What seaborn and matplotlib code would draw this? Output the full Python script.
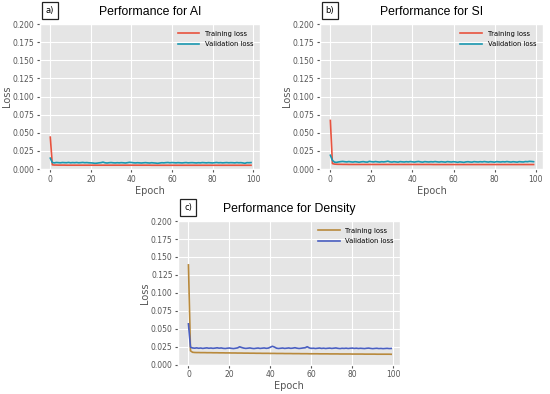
import pandas as pd
import seaborn as sns
import matplotlib.pyplot as plt

# epochs 0..99
epochs = list(range(100))

ai_train = [0.044, 0.0058, 0.0055, 0.0055, 0.0054, 0.0054, 0.0054, 0.0054, 0.0053, 0.0053] + [0.0053] * 40 + [0.0052] * 50
ai_val = [
    0.015, 0.009, 0.0085, 0.009, 0.0088, 0.0086, 0.009, 0.0088, 0.0087, 0.0091,
    0.0086, 0.0089, 0.0087, 0.009, 0.0086, 0.0088, 0.0091, 0.0087, 0.0089, 0.0086,
    0.0085, 0.0083, 0.0079, 0.0081, 0.0085, 0.0088, 0.0095, 0.0086, 0.0083, 0.0087,
    0.0089, 0.0086, 0.0084, 0.0087, 0.0085, 0.0088, 0.0086, 0.0083, 0.0087, 0.0092,
    0.009, 0.0086, 0.0084, 0.0087, 0.0085, 0.0083, 0.0086, 0.0088, 0.0085, 0.0083,
    0.0087, 0.0084, 0.0082, 0.0079, 0.0083, 0.0087, 0.0085, 0.0088, 0.009, 0.0086,
    0.0089, 0.0087, 0.0085, 0.0088, 0.0086, 0.0084, 0.0087, 0.0089, 0.0085, 0.0087,
    0.0088, 0.0086, 0.0084, 0.0087, 0.0085, 0.0089, 0.0087, 0.0085, 0.0088, 0.0086,
    0.0084, 0.0087, 0.009, 0.0086, 0.0088, 0.0085, 0.0087, 0.0089, 0.0086, 0.0088,
    0.0087, 0.0085, 0.0089, 0.0086, 0.0088, 0.0084, 0.0079, 0.0088, 0.0087, 0.0089,
]

si_train = [0.067, 0.0075, 0.0068, 0.0066, 0.0065, 0.0065, 0.0064, 0.0064, 0.0064, 0.0063] + [0.0063] * 40 + [0.0062] * 50
si_val = [
    0.019, 0.012, 0.0095, 0.0092, 0.0098, 0.0102, 0.0105, 0.0101, 0.0098, 0.0103,
    0.0099, 0.0096, 0.0101, 0.0098, 0.0094, 0.0099, 0.0102, 0.0097, 0.0095, 0.0106,
    0.0101, 0.0098, 0.0103, 0.0099, 0.0096, 0.0101, 0.0098, 0.0102, 0.0108, 0.0099,
    0.0096, 0.0101, 0.0098, 0.0095, 0.0102, 0.0099, 0.0097, 0.0101, 0.0098, 0.0103,
    0.0099, 0.0096, 0.0101, 0.0104, 0.0098, 0.0095, 0.0102, 0.0099, 0.0097, 0.0101,
    0.0098, 0.0103, 0.0099, 0.0096, 0.0101, 0.0098, 0.0095, 0.0102, 0.0099, 0.0097,
    0.0101, 0.0098, 0.0093, 0.0099, 0.0096, 0.0092, 0.0098, 0.0101, 0.0097, 0.0095,
    0.0102, 0.0099, 0.0097, 0.0101, 0.0098, 0.0103, 0.0099, 0.0096, 0.0101, 0.0098,
    0.0095, 0.0102, 0.0099, 0.0097, 0.0101, 0.0098, 0.0103, 0.0099, 0.0096, 0.0101,
    0.0098, 0.0095, 0.0102, 0.0099, 0.0097, 0.0103, 0.0101, 0.0106, 0.0104, 0.0101,
]

dens_train = [
    0.139, 0.0195, 0.0175, 0.0172, 0.0171, 0.0171, 0.017, 0.017, 0.017, 0.0169,
    0.0169, 0.0169, 0.0168, 0.0168, 0.0168, 0.0167, 0.0167, 0.0167, 0.0166, 0.0166,
    0.0166, 0.0165, 0.0165, 0.0165, 0.0164, 0.0164, 0.0164, 0.0163, 0.0163, 0.0163,
    0.0162, 0.0162, 0.0162, 0.0161, 0.0161, 0.0161, 0.016, 0.016, 0.016, 0.016,
    0.0159, 0.0159, 0.0159, 0.0158, 0.0158, 0.0158, 0.0158, 0.0157, 0.0157, 0.0157,
    0.0157, 0.0156, 0.0156, 0.0156, 0.0156, 0.0155, 0.0155, 0.0155, 0.0155, 0.0154,
    0.0154, 0.0154, 0.0154, 0.0154, 0.0153, 0.0153, 0.0153, 0.0153, 0.0153, 0.0152,
    0.0152, 0.0152, 0.0152, 0.0152, 0.0151, 0.0151, 0.0151, 0.0151, 0.0151, 0.0151,
    0.015, 0.015, 0.015, 0.015, 0.015, 0.015, 0.0149, 0.0149, 0.0149, 0.0149,
    0.0149, 0.0149, 0.0148, 0.0148, 0.0148, 0.0148, 0.0148, 0.0148, 0.0148, 0.0147,
]
dens_val = [
    0.057, 0.0245, 0.0235, 0.0232, 0.0236, 0.0231, 0.0234, 0.0229, 0.0233, 0.0236,
    0.0231, 0.0234, 0.023, 0.0233, 0.0237, 0.0232, 0.0235, 0.023, 0.0228, 0.0232,
    0.0234, 0.023, 0.0227, 0.0231, 0.0236, 0.0251, 0.0241, 0.0233, 0.0229, 0.0232,
    0.0235, 0.023, 0.0227, 0.0231, 0.0234, 0.0229, 0.0232, 0.0235, 0.023, 0.0233,
    0.0245, 0.0258, 0.0247, 0.0232, 0.0228, 0.0231, 0.0234, 0.0229, 0.0232, 0.0235,
    0.023, 0.0233, 0.0238, 0.0232, 0.0228, 0.0231, 0.0235, 0.0238, 0.0252, 0.0236,
    0.0229, 0.0232, 0.0228, 0.0231, 0.0234, 0.0229, 0.0232, 0.0228, 0.0231, 0.0233,
    0.0229, 0.0232, 0.0235, 0.023, 0.0227, 0.0231, 0.0229, 0.0232, 0.0228, 0.0231,
    0.0233, 0.0229, 0.0232, 0.0228, 0.0231, 0.0229, 0.0227, 0.0231, 0.0233, 0.0229,
    0.0226, 0.0229, 0.0231, 0.0227, 0.0229, 0.0226, 0.0228, 0.023, 0.0227, 0.0228,
]

# tag, title, data, colours, axes rect (figure fraction)
panels = [
    ("a)", "Performance for AI", ai_train, ai_val, ["#e8533f", "#1b98b0"], [0.073, 0.571, 0.400, 0.368]),
    ("b)", "Performance for SI", si_train, si_val, ["#e8533f", "#1b98b0"], [0.582, 0.571, 0.405, 0.368]),
    ("c)", "Performance for Density", dens_train, dens_val, ["#b8893c", "#4a5fc0"], [0.324, 0.074, 0.404, 0.365]),
]

plt.style.use("ggplot")
fig = plt.figure(figsize=(5.5, 3.94), dpi=100)

for tag, title, train, val, colors, rect in panels:
    ax = fig.add_axes(rect)
    df = pd.DataFrame({
        "Epoch": epochs * 2,
        "Loss": train + val,
        "kind": ["Training loss"] * 100 + ["Validation loss"] * 100,
    })
    sns.lineplot(data=df, x="Epoch", y="Loss", hue="kind", palette=colors, linewidth=1.2, ax=ax)
    ax.set_ylim(0, 0.2)
    ax.set_xlim(-5, 103.5)
    ax.set_xticks([0, 20, 40, 60, 80, 100])
    ax.set_yticks([0, 0.025, 0.05, 0.075, 0.1, 0.125, 0.15, 0.175, 0.2])
    ax.set_yticklabels([f"{t:.3f}" for t in ax.get_yticks()])
    ax.tick_params(labelsize=5.5, length=2, colors="#555555", pad=2)
    ax.set_xlabel("Epoch", fontsize=7, color="#555555", labelpad=1.5)
    ax.set_ylabel("Loss", fontsize=7, color="#555555", labelpad=0.5)
    ax.legend(title=None, loc="upper right", fontsize=4.9, frameon=False, handlelength=3.2,
              borderaxespad=0.6, labelspacing=0.6)
    ax.set_title(title, fontsize=8.8, family="Liberation Sans", pad=6.5)
    fig.text(rect[0] + 0.018, rect[1] + rect[3] + 0.034, tag, fontsize=6, va="center", ha="center",
             bbox=dict(boxstyle="square,pad=0.45", facecolor="white", edgecolor="#222222", linewidth=0.9))

fig.savefig("out.png", dpi=100)
